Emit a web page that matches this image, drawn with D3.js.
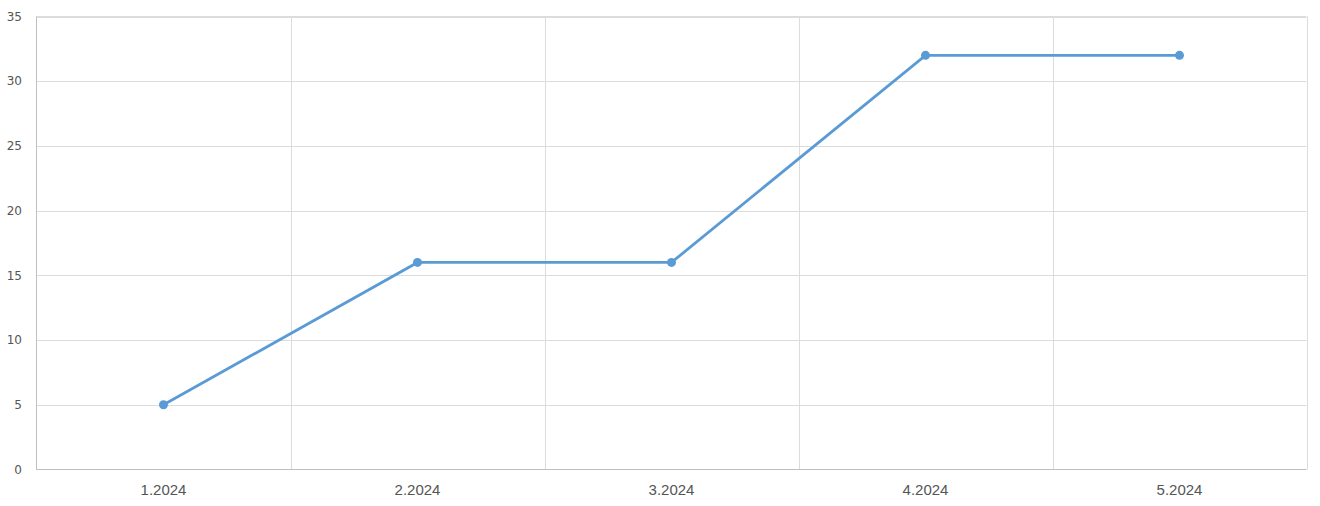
<!DOCTYPE html>
<html><head><meta charset="utf-8">
<script src="https://cdn.jsdelivr.net/npm/d3@7"></script>
<style>body{margin:0;background:#fff;} svg{display:block;font-family:"DejaVu Sans",sans-serif;}</style>
</head><body><svg id="c" width="1320" height="506"></svg>
<script>
const categories = ["1.2024","2.2024","3.2024","4.2024","5.2024"];
const values = [5,16,16,32,32];
const yTicks = [0,5,10,15,20,25,30,35];

const svg = d3.select("#c");
const L=36.5, R=1306.5, T=16.5, B=469.5;
const x = d3.scaleBand().domain(categories).range([L,R]);
const y = d3.scaleLinear().domain([0,35]).range([B,T]);

// horizontal grid
svg.append("g").selectAll("line").data(yTicks.filter(d=>d>0)).join("line")
  .attr("x1",L).attr("x2",R).attr("y1",d=>Math.round(y(d))+0.5).attr("y2",d=>Math.round(y(d))+0.5)
  .attr("stroke","#dcdcdc").attr("stroke-width",1);
// vertical grid at band boundaries
const bounds = categories.slice(1).map(c=>x(c)).concat([R]);
svg.append("g").selectAll("line").data(bounds).join("line")
  .attr("x1",d=>Math.round(d)+0.5).attr("x2",d=>Math.round(d)+0.5).attr("y1",T).attr("y2",B)
  .attr("stroke","#dcdcdc").attr("stroke-width",1);
// top border
svg.append("line").attr("x1",L).attr("x2",R).attr("y1",T).attr("y2",T).attr("stroke","#dcdcdc");
// axes lines
svg.append("line").attr("x1",L).attr("x2",L).attr("y1",T).attr("y2",B).attr("stroke","#bfbfbf");
svg.append("line").attr("x1",L).attr("x2",R).attr("y1",B).attr("y2",B).attr("stroke","#bfbfbf");

// y labels
svg.append("g").selectAll("text").data(yTicks).join("text")
  .attr("x",22).attr("y",d=>y(d)).attr("dy","0.35em").attr("text-anchor","end")
  .attr("font-size",12).attr("fill","#555").text(d=>d);
// x labels
svg.append("g").selectAll("text").data(categories).join("text")
  .attr("x",d=>x(d)+x.bandwidth()/2).attr("y",494.5).attr("text-anchor","middle")
  .attr("font-family","'Liberation Sans',Arial,sans-serif")
  .attr("font-size",15).attr("fill","#555").text(d=>d);

const cx = (d,i)=>x(categories[i])+x.bandwidth()/2;
svg.append("path").datum(values)
  .attr("d",d3.line().x(cx).y(d=>y(d)))
  .attr("fill","none").attr("stroke","#5b9bd5").attr("stroke-width",2.8);
svg.append("g").selectAll("circle").data(values).join("circle")
  .attr("cx",cx).attr("cy",d=>y(d)).attr("r",4.5).attr("fill","#5b9bd5");
</script></body></html>
